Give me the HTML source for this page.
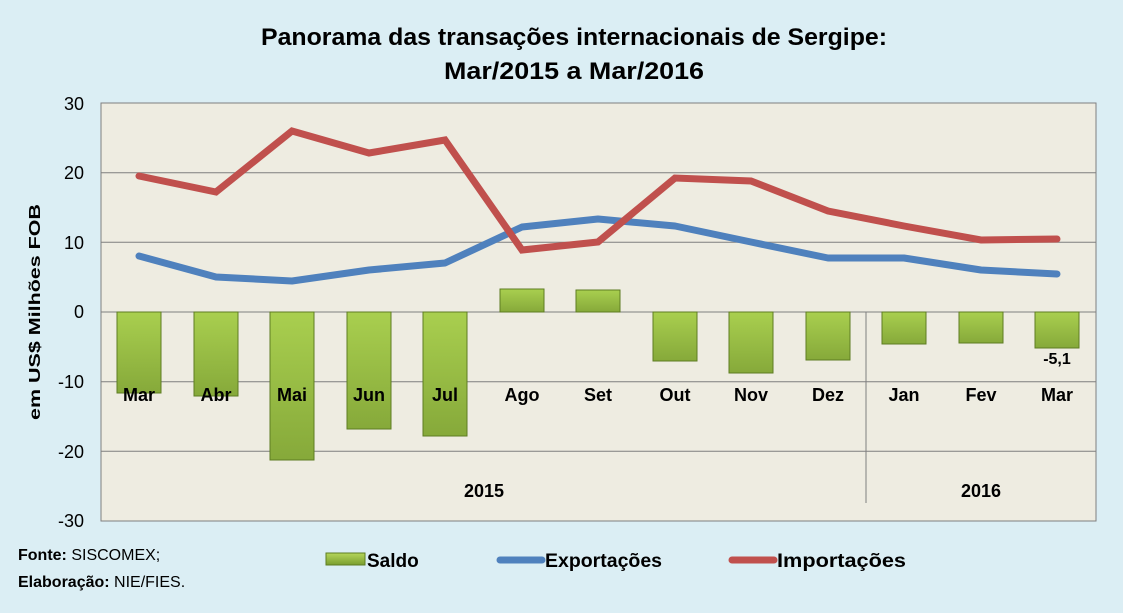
<!DOCTYPE html>
<html><head><meta charset="utf-8"><style>
html,body{margin:0;padding:0;background:#fff}
svg{display:block}
text{font-family:"Liberation Sans",sans-serif}
</style></head><body>
<svg width="1126" height="613" viewBox="0 0 1126 613" xmlns="http://www.w3.org/2000/svg">
<defs>
<linearGradient id="g" x1="0" y1="0" x2="0" y2="1">
<stop offset="0" stop-color="#b5d65a"/><stop offset="1" stop-color="#7a9e2e"/>
</linearGradient>
<linearGradient id="gv" x1="0" y1="0" x2="0" y2="1">
<stop offset="0" stop-color="#a9cf4f"/><stop offset="1" stop-color="#86a93a"/>
</linearGradient>
</defs>
<rect x="0" y="0" width="1123" height="613" fill="#dbeef4"/>
<rect x="101" y="103" width="995" height="418" fill="#eeece1" stroke="#7f7f7f" stroke-width="1"/>
<g stroke="#7f7f7f" stroke-width="1">
<line x1="101" y1="172.7" x2="1096" y2="172.7"/>
<line x1="101" y1="242.3" x2="1096" y2="242.3"/>
<line x1="101" y1="312" x2="1096" y2="312"/>
<line x1="101" y1="381.7" x2="1096" y2="381.7"/>
<line x1="101" y1="451.3" x2="1096" y2="451.3"/>
<line x1="866" y1="312" x2="866" y2="503"/>
<line x1="1096" y1="312" x2="1096" y2="503"/>
</g>
<g font-size="18" fill="#000" text-anchor="end">
<text x="84" y="110">30</text><text x="84" y="179">20</text><text x="84" y="249">10</text>
<text x="84" y="318">0</text><text x="84" y="388">-10</text><text x="84" y="458">-20</text><text x="84" y="527">-30</text>
</g>
<text transform="translate(40,312) rotate(-90)" text-anchor="middle" font-size="16" font-weight="bold" textLength="216" lengthAdjust="spacingAndGlyphs">em US$ Milhões FOB</text>
<g fill="url(#gv)" stroke="#5e7d22" stroke-width="1">
<rect x="117" y="312" width="44" height="81"/>
<rect x="194" y="312" width="44" height="84"/>
<rect x="270" y="312" width="44" height="148"/>
<rect x="347" y="312" width="44" height="117"/>
<rect x="423" y="312" width="44" height="124"/>
<rect x="500" y="289" width="44" height="23"/>
<rect x="576" y="290" width="44" height="22"/>
<rect x="653" y="312" width="44" height="49"/>
<rect x="729" y="312" width="44" height="61"/>
<rect x="806" y="312" width="44" height="48"/>
<rect x="882" y="312" width="44" height="32"/>
<rect x="959" y="312" width="44" height="31"/>
<rect x="1035" y="312" width="44" height="36"/>
</g>
<polyline fill="none" stroke="#4f81bd" stroke-width="7" stroke-linejoin="round" stroke-linecap="round" points="139,256 216,277 292,281 369,270 445,263 522,227 598,219 675,226 751,242 828,258 904,258 981,270 1057,274"/>
<polyline fill="none" stroke="#c0504d" stroke-width="7" stroke-linejoin="miter" stroke-linecap="round" points="139,176 216,192 292,131 369,153 445,140 522,250 598,242 675,178 751,181 828,211 904,226 981,240 1057,239"/>
<g font-size="18" font-weight="bold" text-anchor="middle">
<text x="139" y="401">Mar</text><text x="216" y="401">Abr</text><text x="292" y="401">Mai</text><text x="369" y="401">Jun</text><text x="445" y="401">Jul</text><text x="522" y="401">Ago</text><text x="598" y="401">Set</text><text x="675" y="401">Out</text><text x="751" y="401">Nov</text><text x="828" y="401">Dez</text><text x="904" y="401">Jan</text><text x="981" y="401">Fev</text><text x="1057" y="401">Mar</text>
<text x="484" y="497">2015</text><text x="981" y="497">2016</text>
<text x="1057" y="364" font-size="16">-5,1</text>
</g>
<g font-size="24" font-weight="bold" text-anchor="middle">
<text x="574" y="45" textLength="626" lengthAdjust="spacingAndGlyphs">Panorama das transações internacionais de Sergipe:</text>
<text x="574" y="79" textLength="260" lengthAdjust="spacingAndGlyphs">Mar/2015 a Mar/2016</text>
</g>
<g font-size="16">
<text x="18" y="560"><tspan font-weight="bold">Fonte:</tspan> SISCOMEX;</text>
<text x="18" y="587"><tspan font-weight="bold">Elaboração:</tspan> NIE/FIES.</text>
</g>
<rect x="326" y="553" width="39" height="12" fill="url(#g)" stroke="#5e7d22"/>
<text x="367" y="567" font-size="19" font-weight="bold">Saldo</text>
<line x1="500" y1="560" x2="542" y2="560" stroke="#4f81bd" stroke-width="7" stroke-linecap="round"/>
<text x="545" y="567" font-size="19" font-weight="bold" textLength="117" lengthAdjust="spacingAndGlyphs">Exportações</text>
<line x1="732" y1="560" x2="774" y2="560" stroke="#c0504d" stroke-width="7" stroke-linecap="round"/>
<text x="777" y="567" font-size="19" font-weight="bold" textLength="129" lengthAdjust="spacingAndGlyphs">Importações</text>
</svg>
</body></html>
